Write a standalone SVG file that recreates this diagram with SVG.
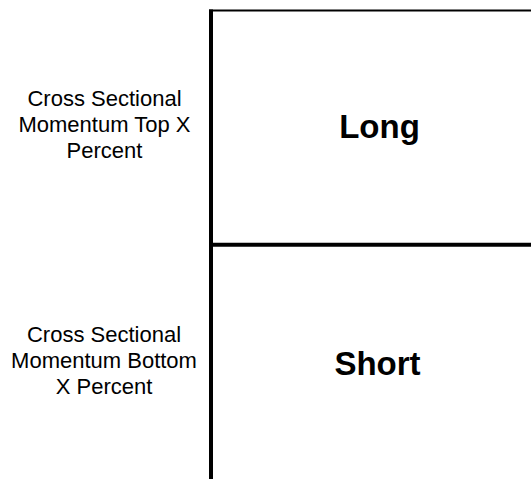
<svg xmlns="http://www.w3.org/2000/svg" width="531" height="479" viewBox="0 0 531 479">
<style>
.lbl{font-family:"Liberation Sans",Arial,sans-serif;font-size:22px;fill:#000;text-anchor:middle}
.big{font-family:"Liberation Sans",Arial,sans-serif;font-size:33px;font-weight:bold;fill:#000;text-anchor:middle}
.ln{stroke:#000;fill:none}
</style>
<rect width="531" height="479" fill="#fff"/>
<g id="grid">
<line class="ln" x1="209" y1="10.5" x2="531" y2="10.5" stroke-width="2"/>
<line class="ln" x1="211" y1="9.5" x2="211" y2="479" stroke-width="4"/>
<line class="ln" x1="211" y1="244.7" x2="531" y2="244.7" stroke-width="4"/>
</g>
<g id="label-top">
<text class="lbl" x="104.5" y="106">Cross Sectional</text>
<text class="lbl" x="104.5" y="132">Momentum Top X</text>
<text class="lbl" x="104.5" y="158">Percent</text>
</g>
<g id="label-bottom">
<text class="lbl" x="104" y="342">Cross Sectional</text>
<text class="lbl" x="104" y="368">Momentum Bottom</text>
<text class="lbl" x="104" y="394">X Percent</text>
</g>
<g id="cell-long">
<text class="big" x="379.5" y="138">Long</text>
</g>
<g id="cell-short">
<text class="big" x="377.5" y="375">Short</text>
</g>
</svg>
